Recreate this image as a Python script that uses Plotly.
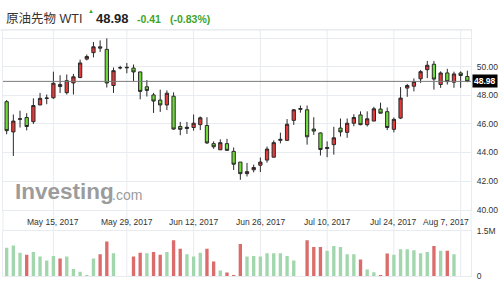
import plotly.graph_objects as go

# ---------------- data ----------------
opens = [47.56, 45.44, 46.32, 46.45, 46.16, 47.33, 47.79, 47.83, 48.76, 48.19,
         48.87, 49.25, 50.54, 50.99, 51.40, 51.22, 48.69, 49.92, 49.93, 49.91,
         49.64, 48.60, 48.03, 47.67, 47.33, 47.94, 45.82, 45.68, 45.75, 45.95,
         45.89, 44.62, 44.19, 44.62, 44.08, 43.33, 42.52, 42.79, 43.11, 43.47,
         43.67, 44.85, 44.85, 46.25, 47.02, 46.99, 45.64, 45.37, 44.28, 44.55,
         45.71, 45.41, 46.05, 46.63, 45.95, 46.20, 47.04, 46.86, 45.62, 46.41,
         48.51, 48.64, 49.16, 49.80, 50.18, 48.76, 49.57, 48.92, 49.57, 49.32]
highs = [47.67, 46.66, 46.93, 46.75, 47.79, 48.17, 48.06, 49.66, 49.41, 49.46,
         49.50, 50.50, 50.86, 51.74, 51.85, 51.99, 49.95, 50.07, 50.27, 50.16,
         49.66, 49.07, 48.17, 48.40, 48.35, 48.21, 46.14, 46.14, 46.66, 46.52,
         46.47, 44.78, 44.92, 44.96, 44.35, 43.33, 43.27, 43.15, 43.65, 44.42,
         44.85, 45.39, 46.34, 47.04, 47.29, 47.29, 46.47, 45.40, 44.78, 45.80,
         46.38, 46.38, 46.68, 46.88, 46.88, 47.20, 47.49, 47.15, 46.45, 48.58,
         48.80, 49.19, 49.77, 50.41, 50.41, 49.68, 49.86, 49.66, 49.68, 49.73]
lows = [45.28, 43.76, 45.75, 45.55, 46.00, 47.31, 47.38, 47.76, 48.17, 48.06,
        48.06, 49.20, 50.45, 50.66, 51.04, 48.55, 48.17, 49.82, 49.55, 48.98,
        47.72, 47.92, 46.77, 46.84, 46.97, 45.59, 45.21, 45.30, 45.53, 45.57,
        44.60, 44.26, 44.19, 44.15, 42.77, 42.09, 42.32, 42.61, 42.63, 43.29,
        43.67, 44.64, 44.80, 45.93, 46.79, 44.55, 45.23, 43.79, 43.67, 43.85,
        45.12, 45.03, 45.84, 45.91, 45.82, 46.20, 46.75, 45.57, 45.41, 46.34,
        47.90, 48.28, 48.87, 49.21, 48.40, 48.53, 48.76, 48.53, 48.53, 48.92]
closes = [45.53, 46.20, 46.36, 45.82, 47.29, 47.79, 47.81, 48.85, 48.62, 49.03,
          49.30, 50.27, 50.72, 51.40, 51.31, 48.87, 49.73, 49.94, 49.96, 49.64,
          48.28, 48.35, 47.60, 47.33, 48.15, 45.64, 45.62, 45.77, 46.05, 46.43,
          44.67, 44.40, 44.69, 44.15, 43.18, 42.52, 42.66, 42.95, 43.33, 44.24,
          44.69, 44.92, 45.98, 46.99, 47.08, 45.10, 45.50, 44.21, 44.35, 45.03,
          45.44, 46.05, 46.45, 45.95, 46.36, 47.06, 46.75, 45.75, 46.32, 47.81,
          48.69, 48.96, 49.66, 50.11, 49.14, 49.57, 48.96, 49.50, 49.39, 48.98]
volume_m = [0.94, 1.02, 0.78, 0.71, 0.80, 0.65, 0.52, 0.67, 0.59, 0.65,
            0.24, 0.15, 0.02, 0.59, 0.73, 1.15, 0.76, None, None, 0.65,
            0.78, 0.76, 0.80, 0.71, 0.80, 1.19, 0.91, 0.73, 0.65, 0.78,
            0.91, 0.49, 0.19, 0.12, 0.02, 1.07, 0.65, 0.67, 0.65, 0.76,
            0.76, 0.76, 0.67, 0.52, None, 1.19, 0.97, 0.97, 0.84, 1.00,
            0.97, 0.73, 0.73, 0.55, 0.22, 0.13, 0.02, 0.75, 0.71, 0.89,
            0.89, 0.86, 0.76, 0.80, 1.00, 0.84, 0.84, 0.73, None, None]
volume_dir = list("gggrggggrg" "ggggrrg--r" "rgrrgrrggg" "rrgrrrgggg"
                  "gggg-rrrgg" "gggrggrrgg" "ggggrgrg--")
tick_index = [7, 18, 28, 38, 48, 58, 68]
tick_labels = ["May 15, 2017", "May 29, 2017", "Jun 12, 2017", "Jun 26, 2017",
               "Jul 10, 2017", "Jul 24, 2017", "Aug 7, 2017"]
price_ticks = [40, 42, 44, 46, 48, 50, 52]
price_ticktext = ["40.00", "42.00", "44.00", "46.00", "48.00", "50.00", ""]
title_name = "原油先物 WTI"
last_price = "48.98"
change = "-0.41"
change_pct = "(-0.83%)"

# ---------------- layout geometry ----------------
W, H = 503, 288
px = lambda v: v / W
py = lambda v: (H - v) / H
X0, X1 = 3, 471
P_TOP, P_BOT = 26, 212
V_TOP, V_BOT = 234, 281
n = len(closes)
idx = list(range(n))

FONT = "Liberation Sans, Arial, sans-serif"
GRID = "#e8ebef"
RED = "#e63a3a"
GREEN = "#6edb3a"
VRED = "#dc6b6b"
VGREEN = "#a2d7ad"
TXTGREEN = "#3fa41f"

vol = [None if v is None else v * 1e6 for v in volume_m]
vcol = [VGREEN if d == "g" else VRED for d in volume_dir[:n]]

fig = go.Figure()
fig.add_trace(go.Candlestick(
    x=idx, open=opens, high=highs, low=lows, close=closes,
    increasing=dict(fillcolor=RED, line=dict(color="#2a2a2a", width=1)),
    decreasing=dict(fillcolor=GREEN, line=dict(color="#2a2a2a", width=1)),
    whiskerwidth=0, xaxis="x", yaxis="y", showlegend=False, hoverinfo="skip"))
fig.add_trace(go.Bar(
    x=idx, y=vol, marker=dict(color=vcol, line=dict(width=0)), width=0.5,
    xaxis="x2", yaxis="y2", showlegend=False, hoverinfo="skip"))

xr = [-0.55, n - 0.45]
fig.update_layout(
    width=W, height=H, margin=dict(l=0, r=0, t=0, b=0),
    paper_bgcolor="white", plot_bgcolor="white",
    font=dict(family=FONT, size=8.5, color="#333"),
    xaxis=dict(domain=[px(X0), px(X1)], range=xr, showgrid=False, showticklabels=False,
               zeroline=False, rangeslider=dict(visible=False), fixedrange=True,
               showline=True, linecolor=GRID, mirror=True, anchor="y"),
    yaxis=dict(domain=[py(P_BOT), py(P_TOP)], range=[40, 52.57], side="right",
               tickvals=price_ticks, ticktext=price_ticktext, gridcolor=GRID,
               zeroline=False, showline=True, linecolor=GRID, mirror=True,
               ticks="outside", ticklen=3, tickcolor="rgba(0,0,0,0)",
               tickfont=dict(size=8.5, color="#333"), anchor="x"),
    xaxis2=dict(domain=[px(X0), px(X1)], range=xr, showgrid=False, showticklabels=False,
                zeroline=False, showline=True, linecolor=GRID, mirror=True, anchor="y2"),
    yaxis2=dict(domain=[py(V_BOT), py(V_TOP)], range=[0, 1.5e6], side="right",
                tickvals=[0, 1.5e6], ticktext=["0", "1.5M"], gridcolor=GRID,
                zeroline=False, showline=True, linecolor=GRID, mirror=True,
                ticks="outside", ticklen=3, tickcolor="rgba(0,0,0,0)",
                tickfont=dict(size=8.5, color="#333"), anchor="x2"),
    bargap=0.5,
)

shapes = []
# vertical grid lines through all panels at the date ticks
for t in tick_index:
    shapes.append(dict(type="line", xref="x", yref="paper", x0=t, x1=t,
                       y0=py(V_BOT), y1=py(P_TOP), line=dict(color=GRID, width=1), layer="below"))
# borders of the date band
for xv in (X0, X1):
    shapes.append(dict(type="line", xref="paper", yref="paper", x0=px(xv), x1=px(xv),
                       y0=py(V_TOP), y1=py(P_BOT), line=dict(color=GRID, width=1), layer="below"))
# last price line
shapes.append(dict(type="line", xref="paper", yref="y", x0=px(X0), x1=px(X1),
                   y0=closes[-1], y1=closes[-1], line=dict(color="#7a7a7a", width=1)))
# header separator
shapes.append(dict(type="line", xref="paper", yref="paper", x0=0, x1=px(X1),
                   y0=py(P_TOP), y1=py(P_TOP), line=dict(color=GRID, width=1)))
fig.update_layout(shapes=shapes)

ann = []
# date labels
for t, lab in zip(tick_index, tick_labels):
    half = len(lab) * 2.3
    xc = X0 + (t - xr[0]) / (xr[1] - xr[0]) * (X1 - X0)
    if xc + half > X1:
        ann.append(dict(x=px(X1), xref="paper", xanchor="right", y=py(225), yref="paper",
                        yanchor="middle", text=lab, showarrow=False,
                        font=dict(size=8.5, color="#333")))
    else:
        ann.append(dict(x=t, xref="x", xanchor="center", y=py(225), yref="paper",
                        yanchor="middle", text=lab, showarrow=False,
                        font=dict(size=8.5, color="#333")))
# last price tag
ann.append(dict(x=px(X1) + 0.002, xref="paper", xanchor="left", y=closes[-1], yref="y",
                yanchor="middle", text="<b>%.2f</b>" % closes[-1], showarrow=False,
                bgcolor="black", borderpad=1, font=dict(size=8.5, color="white")))
# header
ann.append(dict(x=px(4), xref="paper", xanchor="left", y=py(14), yref="paper", yanchor="middle",
                text=title_name, showarrow=False,
                font=dict(size=12.5, color="#333", family="Liberation Sans, Noto Sans CJK JP")))
ann.append(dict(x=px(86), xref="paper", xanchor="left", y=py(6), yref="paper", yanchor="middle",
                text="▲", showarrow=False, font=dict(size=6, color=TXTGREEN)))
ann.append(dict(x=px(94), xref="paper", xanchor="left", y=py(14), yref="paper", yanchor="middle",
                text="<b>%s</b>" % last_price, showarrow=False, font=dict(size=13, color="#222")))
ann.append(dict(x=px(135), xref="paper", xanchor="left", y=py(15), yref="paper", yanchor="middle",
                text="<b>%s</b>" % change, showarrow=False, font=dict(size=10.5, color=TXTGREEN)))
ann.append(dict(x=px(168), xref="paper", xanchor="left", y=py(15), yref="paper", yanchor="middle",
                text="<b>%s</b>" % change_pct, showarrow=False, font=dict(size=10.5, color=TXTGREEN)))
# watermark
ann.append(dict(x=px(13), xref="paper", xanchor="left", y=py(193), yref="paper", yanchor="middle",
                text="<b>Investing</b>", showarrow=False, font=dict(size=22.5, color="#9c9c9c")))
ann.append(dict(x=px(110), xref="paper", xanchor="left", y=py(197), yref="paper", yanchor="middle",
                text=".com", showarrow=False, font=dict(size=14, color="#9c9c9c")))
fig.update_layout(annotations=ann)

fig.write_html("out.html", config=dict(displayModeBar=False))
